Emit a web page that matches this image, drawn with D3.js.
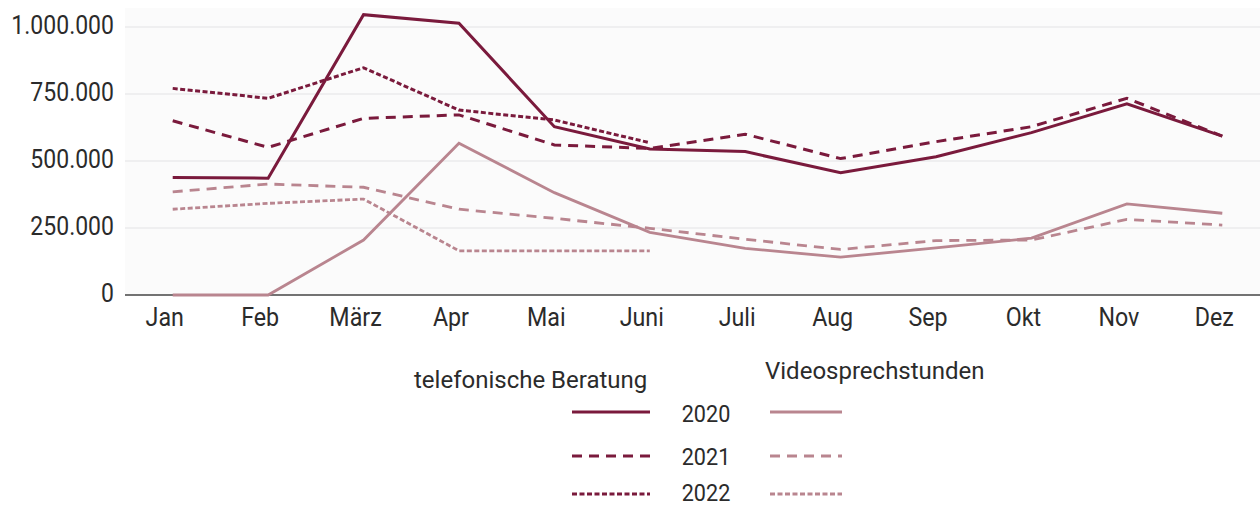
<!DOCTYPE html>
<html><head><meta charset="utf-8">
<script src="https://cdn.jsdelivr.net/npm/d3@7/dist/d3.min.js"></script>
<style>
html,body{margin:0;padding:0;background:#fff;}
svg{display:block;font-family:Roboto, "Noto Sans", sans-serif;}
</style></head><body>
<svg id="c" width="1260" height="508"></svg>
<script>
const months = ["Jan","Feb","März","Apr","Mai","Juni","Juli","Aug","Sep","Okt","Nov","Dez"];
const yTicks = [0, 250000, 500000, 750000, 1000000];
const tel2020 = [438000, 436000, 1046000, 1014000, 628000, 545000, 535000, 456000, 516000, 606000, 713000, 593000];
const tel2021 = [650000, 551000, 659000, 672000, 560000, 547000, 600000, 509000, 572000, 628000, 734000, 593000];
const tel2022 = [771000, 734000, 848000, 690000, 653000, 568000];
const vid2020 = [0, 0, 205000, 566000, 382000, 234000, 174000, 141000, 176000, 212000, 340000, 305000];
const vid2021 = [385000, 414000, 402000, 320000, 286000, 249000, 208000, 170000, 203000, 205000, 282000, 261000];
const vid2022 = [320000, 342000, 358000, 165000, 165000, 165000];
const years = ["2020","2021","2022"];

const darkColor = "#7a1a3c", lightColor = "#b9858f";
const dashes = {"2020": null, "2021": "10,7", "2022": "5,2.5"};

const svg = d3.select("#c");
const x = d3.scalePoint().domain(months).range([125, 1270]).padding(0.5);
const y = d3.scaleLinear().domain([0, 1000000]).range([295, 27]);

svg.append("rect").attr("x",125).attr("y",8).attr("width",1135).attr("height",287).attr("fill","#fbfbfb");

// grid
svg.append("g").selectAll("line").data(yTicks.filter(d=>d>0)).join("line")
  .attr("x1",125).attr("x2",1260).attr("y1",d=>y(d)).attr("y2",d=>y(d))
  .attr("stroke","#e3e3e6").attr("stroke-width",1.2);

const fmt = d => d3.format(",")(d).replace(/,/g,".");
const ya = svg.append("g").attr("transform","translate(125,0)")
  .call(d3.axisLeft(y).tickValues(yTicks).tickFormat(fmt).tickSize(0).tickPadding(12));
ya.select(".domain").remove();
ya.selectAll("text").attr("font-size",25).attr("fill","#2b2b2b").attr("font-family","Roboto")
  .attr("dy","0.27em").attr("transform","scale(0.92,1)");

const xa = svg.append("g").attr("transform","translate(-8.5,295)")
  .call(d3.axisBottom(x).tickSize(0).tickPadding(13));
xa.select(".domain").remove();
xa.selectAll("text").attr("font-size",25).attr("fill","#2b2b2b").attr("font-family","Roboto")
  .attr("transform","scale(0.93,1)");

svg.append("line").attr("x1",125).attr("x2",1260).attr("y1",295).attr("y2",295).attr("stroke","#444").attr("stroke-width",1.5);

const series = [
  {vals: vid2022, color: lightColor, year:"2022"},
  {vals: vid2021, color: lightColor, year:"2021"},
  {vals: vid2020, color: lightColor, year:"2020"},
  {vals: tel2022, color: darkColor, year:"2022"},
  {vals: tel2021, color: darkColor, year:"2021"},
  {vals: tel2020, color: darkColor, year:"2020"}
];
const line = d3.line().x((d,i)=>x(months[i])).y(d=>y(d));
svg.append("g").selectAll("path").data(series).join("path")
  .attr("d", s=>line(s.vals))
  .attr("fill","none").attr("stroke",s=>s.color).attr("stroke-width",s=>s.color===darkColor?3:2.8)
  .attr("stroke-dasharray",s=>dashes[s.year]).attr("stroke-linejoin","miter");

// legend
const lg = svg.append("g");
lg.append("text").attr("x",414).attr("y",388).attr("font-size",24).attr("fill","#2b2b2b").text("telefonische Beratung");
lg.append("text").attr("x",765).attr("y",379).attr("font-size",24).attr("fill","#2b2b2b").text("Videosprechstunden");
const rowY = [412, 456, 494];
const textY = [422, 465, 501];
years.forEach((yr,i)=>{
  lg.append("line").attr("x1",572).attr("x2",650).attr("y1",rowY[i]).attr("y2",rowY[i])
    .attr("stroke",darkColor).attr("stroke-width",3).attr("stroke-dasharray",dashes[yr]);
  lg.append("line").attr("x1",770).attr("x2",842).attr("y1",rowY[i]).attr("y2",rowY[i])
    .attr("stroke",lightColor).attr("stroke-width",2.8).attr("stroke-dasharray",dashes[yr]);
  lg.append("g").attr("transform",`translate(706,${textY[i]})`)
    .append("text").attr("text-anchor","middle").attr("font-size",24).attr("fill","#2b2b2b")
    .attr("transform","scale(0.9,1)").text(yr);
});
</script>
</body></html>
